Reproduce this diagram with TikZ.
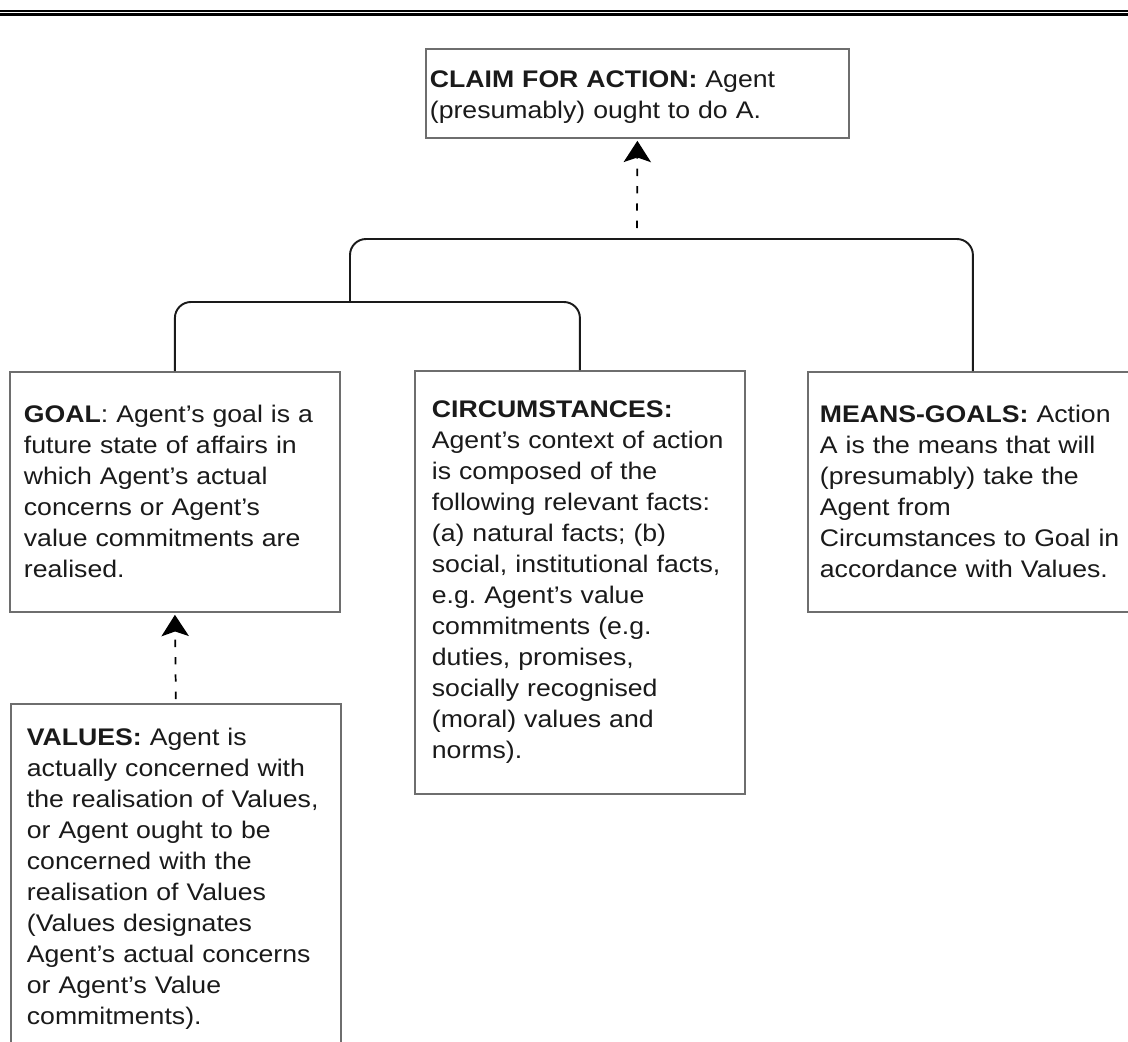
\documentclass[tikz,border=0pt]{standalone}
\usepackage{fontspec}
\setmainfont{Liberation Sans}[FakeStretch=1.11]
\usetikzlibrary{arrows.meta, positioning}
\frenchspacing
\definecolor{cgrey}{HTML}{6E6E6E}
\definecolor{cink}{HTML}{1A1A1A}
\tikzset{
  every picture/.style={font=\fontsize{18}{23.25}\selectfont, line width=1.2pt},
  box/.style={draw=cgrey, line width=1.35pt, fill=white, text=cink, align=left, anchor=north west, inner ysep=0pt, minimum width=247.5pt},
  arrow/.style={-{Stealth[length=16pt, width=20.5pt, inset=3.5pt]}, draw=black, line width=1.3pt},
}

\begin{document}
\begin{tikzpicture}[x=0.75pt, y=-0.75pt,
    claimbox/.style={box, minimum width=317.25pt, minimum height=66.75pt, inner xsep=3pt, text width=311.25pt},
    part/.style={box, minimum height=#1},
    implies/.style={arrow, dash pattern=on 5.5pt off 7.5pt},
    bracket/.style={draw=cink, line width=1.45pt, rounded corners=12pt},
    hrule/.style={draw=black, line width=#1},
  ]
  \path[use as bounding box, clip] (0,0) rectangle (1128,1042);

  % ---- double rule at the top
  \draw[hrule=1.7pt] (0,11) -- (1128,11);
  \draw[hrule=2pt] (0,14.8) -- (1128,14.8);

  % ---- conclusion
  \node[claimbox] (claim) at (425,48) {\rule{0pt}{18.5pt}\textbf{CLAIM FOR ACTION:} Agent\\(presumably) ought to do A.};

  % ---- premises
  \node[part=180pt, inner xsep=10.5pt, text width=226.5pt] (goal) at (9,371)
    {\textbf{GOAL}: Agent’s goal is a\\future state of affairs in\\which Agent’s actual\\concerns or Agent’s\\value commitments are\\realised.};
  \node[part=317.25pt, inner xsep=12.75pt, text width=222pt] (circ) at (414,370)
    {\textbf{CIRCUMSTANCES:}\\Agent’s context of action\\is composed of the\\following relevant facts:\\(a) natural facts; (b)\\social, institutional facts,\\e.g. Agent’s value\\commitments (e.g.\\duties, promises,\\socially recognised\\(moral) values and\\norms).};
  \node[part=180pt, inner xsep=9pt, text width=229.5pt] (means) at (807,371)
    {\textbf{MEANS-GOALS:} Action\\A is the means that will\\(presumably) take the\\Agent from\\Circumstances to Goal in\\accordance with Values.};
  \node[part=262.5pt, inner xsep=12pt, text width=223.5pt] (values) at (10,703)
    {\textbf{VALUES:} Agent is\\actually concerned with\\the realisation of Values,\\or Agent ought to be\\concerned with the\\realisation of Values\\(Values designates\\Agent’s actual concerns\\or Agent’s Value\\commitments).};

  % ---- brackets joining the premises
  \coordinate (join) at (350,302);
  \coordinate (crest) at (637,239);
  \coordinate (ctail) at (637,228);
  \draw[bracket] (goal.north) |- (join) -| (circ.north);
  \draw[bracket] (join) |- (crest) -| (means.north);

  % ---- support arrows
  \draw[implies, shorten >=1.5pt] (ctail) -- (claim.south);
  \draw[implies, shorten <=3pt, shorten >=1.5pt] (values.north) -- (goal.south);
\end{tikzpicture}
\end{document}
